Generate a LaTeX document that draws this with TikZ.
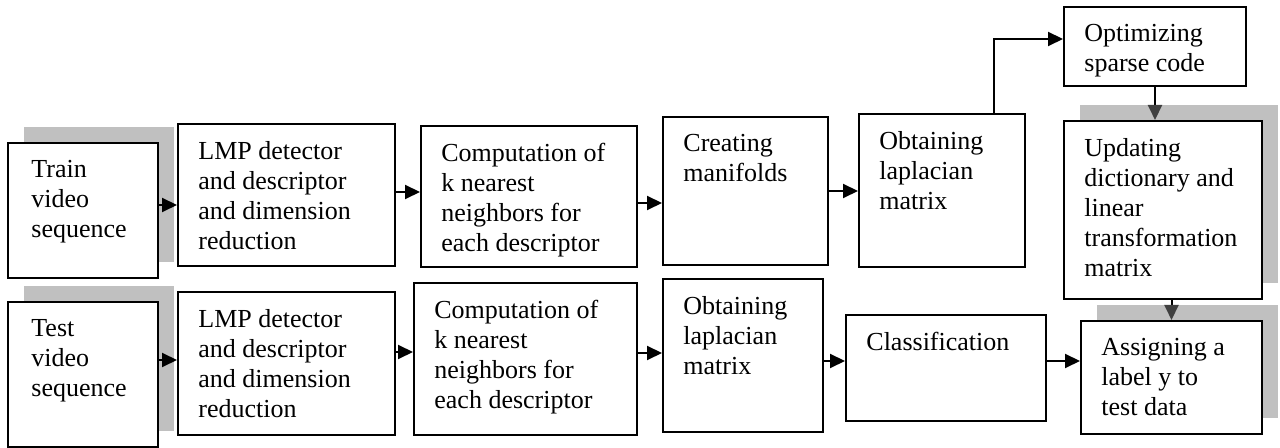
\documentclass[tikz,border=0pt]{standalone}
\usepackage{fontspec}
\setmainfont{Liberation Serif}
\usetikzlibrary{arrows.meta,shadows}
\definecolor{shadegray}{RGB}{192,192,192}
\definecolor{darkarrow}{RGB}{64,64,64}
\tikzset{
  stagebox/.style={draw, line width=1pt, fill=white, inner sep=0pt},
  shadowbox/.style={stagebox, drop shadow={shadow xshift=8pt, shadow yshift=8pt, fill=shadegray, opacity=1}},
  stagetext/.style={anchor=north west, align=left, inner sep=0pt, xshift=10.5pt, yshift=-9pt, font=\fontsize{13}{15}\selectfont},
  arr/.style={-{Triangle[length=7.5pt,width=7pt]}, line width=1pt},
  darr/.style={-{Triangle[length=7.5pt,width=7pt,color=darkarrow]}, line width=1pt},
}
\begin{document}
\begin{tikzpicture}[x=0.5pt,y=-0.5pt]
        \useasboundingbox (0,0) rectangle (1280,448);

        % training row
        \node[shadowbox, minimum width=75pt, minimum height=67.5pt] (train) at (83,210.5) {};
        \node[stagebox, minimum width=108.5pt, minimum height=71pt] (lmp1) at (286.5,195) {};
        \node[stagebox, minimum width=108pt, minimum height=70.5pt] (knn1) at (529,196.5) {};
        \node[stagebox, minimum width=82.5pt, minimum height=74pt] (mani) at (745.5,191) {};
        \node[stagebox, minimum width=83pt, minimum height=76.5pt] (lap1) at (942,190.5) {};
        \node[stagebox, minimum width=91pt, minimum height=39.5pt] (opt) at (1155,46.5) {};
        \node[shadowbox, minimum width=99pt, minimum height=89pt] (upd) at (1163,210) {};

        % test row
        \node[shadowbox, minimum width=75pt, minimum height=72.5pt] (test) at (83,374.5) {};
        \node[stagebox, minimum width=108.5pt, minimum height=71.5pt] (lmp2) at (286.5,363.5) {};
        \node[stagebox, minimum width=111.5pt, minimum height=76pt] (knn2) at (525.5,359) {};
        \node[stagebox, minimum width=80pt, minimum height=76.5pt] (lap2) at (743,355.5) {};
        \node[stagebox, minimum width=100pt, minimum height=53pt] (cls) at (946,368) {};
        \node[shadowbox, minimum width=90.5pt, minimum height=56.5pt] (asg) at (1171.5,377.5) {};

        \node[stagetext, xshift=1.5pt] (traintxt) at (train.north west) {Train\\video\\sequence};
        \node[stagetext] (lmp1txt) at (lmp1.north west) {LMP detector\\and descriptor\\and dimension\\reduction};
        \node[stagetext] (knn1txt) at (knn1.north west) {Computation of\\k nearest\\neighbors for\\each descriptor};
        \node[stagetext] (manitxt) at (mani.north west) {Creating\\manifolds};
        \node[stagetext] (lap1txt) at (lap1.north west) {Obtaining\\laplacian\\matrix};
        \node[stagetext] (opttxt) at (opt.north west) {Optimizing\\sparse code};
        \node[stagetext] (updtxt) at (upd.north west) {Updating\\dictionary and\\linear\\transformation\\matrix};

        \node[stagetext, xshift=1.5pt] (testtxt) at (test.north west) {Test\\video\\sequence};
        \node[stagetext] (lmp2txt) at (lmp2.north west) {LMP detector\\and descriptor\\and dimension\\reduction};
        \node[stagetext] (knn2txt) at (knn2.north west) {Computation of\\k nearest\\neighbors for\\each descriptor};
        \node[stagetext] (lap2txt) at (lap2.north west) {Obtaining\\laplacian\\matrix};
        \node[stagetext] (clstxt) at (cls.north west) {Classification};
        \node[stagetext] (asgtxt) at (asg.north west) {Assigning a\\label y to\\test data};

        \draw[arr] ([yshift=2.75pt]train.east) -- ([yshift=2.75pt]train.east -| lmp1.west);
        \draw[arr] ([yshift=1.5pt]lmp1.east) -- ([yshift=1.5pt]lmp1.east -| knn1.west);
        \draw[arr] ([yshift=-3.25pt]knn1.east) -- ([yshift=-3.25pt]knn1.east -| mani.west);
        \draw[arr] (mani.east) -- (mani.east -| lap1.west);
        \draw[arr] ([xshift=26pt]lap1.north) |- ([yshift=3.75pt]opt.west);
        \draw[darr] (opt.south) -- (opt.south |- upd.north);
        \draw[darr] (asg.north |- upd.south) -- (asg.north);

        \draw[arr] ([yshift=7.25pt]test.east) -- ([yshift=7.25pt]test.east -| lmp2.west);
        \draw[arr] ([yshift=5.75pt]lmp2.east) -- ([yshift=5.75pt]lmp2.east -| knn2.west);
        \draw[arr] ([yshift=3pt]knn2.east) -- ([yshift=3pt]knn2.east -| lap2.west);
        \draw[arr] ([yshift=-2.75pt]lap2.east) -- ([yshift=-2.75pt]lap2.east -| cls.west);
        \draw[arr] ([yshift=3.5pt]cls.east) -- ([yshift=3.5pt]cls.east -| asg.west);
    \end{tikzpicture}
\end{document}
